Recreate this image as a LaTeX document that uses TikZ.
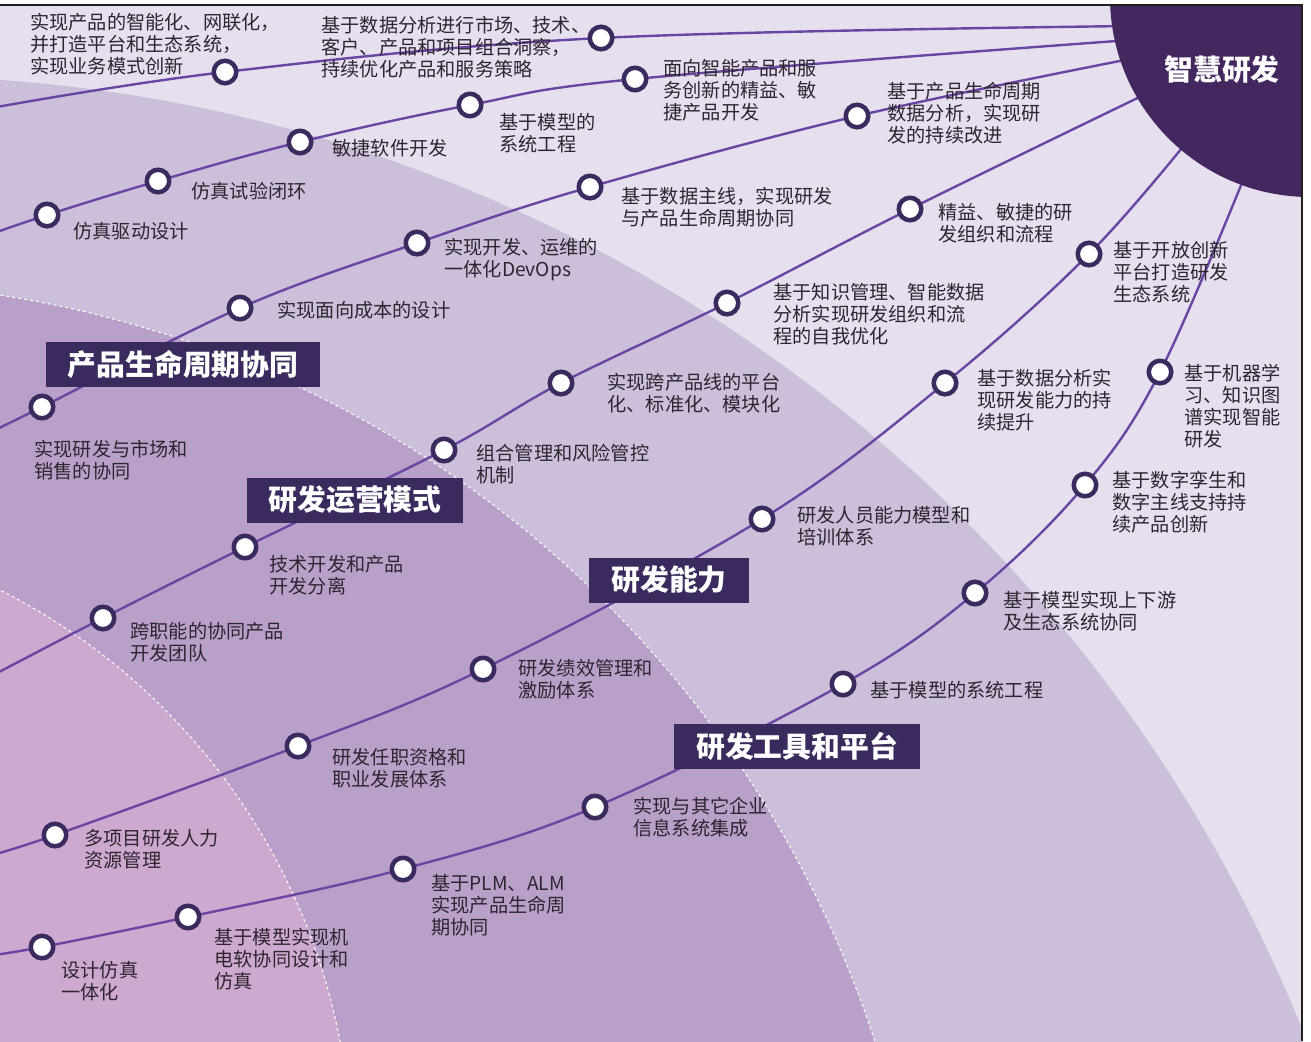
\documentclass[tikz,border=0pt]{standalone}
\usepackage{fontspec}
\setmainfont{Noto Sans CJK SC}
\usetikzlibrary{positioning}
\definecolor{ringA}{HTML}{E6E0EE}
\definecolor{ringB}{HTML}{CCBFDA}
\definecolor{ringC}{HTML}{B9A0C9}
\definecolor{ringD}{HTML}{CEA9CF}
\definecolor{hubfill}{HTML}{45275F}
\definecolor{boxfill}{HTML}{3B2A5D}
\definecolor{dotline}{HTML}{3B2A5D}
\definecolor{trackline}{HTML}{6A46A2}
\definecolor{ink}{HTML}{2E2530}
\definecolor{edgeline}{HTML}{231F20}
\pgfdeclarelayer{back}
\pgfdeclarelayer{mid}
\pgfsetlayers{back,mid,main}
\tikzset{x=0.5pt, y=-0.5pt,
         dot/.style={circle, draw=dotline, line width=2.25pt, fill=white, minimum size=11.25pt, inner sep=0pt},
         lbl/.style={anchor=north west, align=left, inner sep=0pt, text=ink, font=\fontsize{9.6}{11}\selectfont},
         theme/.style={fill=boxfill, text=white, inner xsep=11pt, inner ysep=0pt, minimum height=22.5pt, font=\fontsize{14.4}{16}\selectfont\bfseries},
         track/.style={draw=trackline, line width=1.2pt},
         seam/.style={draw=white, line width=0.5pt, dash pattern=on 1.5pt off 1.5pt},
         }

\begin{document}
\begin{tikzpicture}
    \useasboundingbox (0,0) rectangle (1311,1041);

    \node[dot] (d1a) at (225,72) {};
    \node[dot] (d1b) at (601,38) {};

    \node[dot] (d2a) at (635,79) {};
    \node[dot] (d2b) at (470,105) {};
    \node[dot] (d2c) at (300,142) {};
    \node[dot] (d2d) at (158,181) {};
    \node[dot] (d2e) at (47,215) {};

    \node[dot] (d3a) at (857,116) {};
    \node[dot] (d3b) at (590,187) {};
    \node[dot] (d3c) at (417,243) {};
    \node[dot] (d3d) at (240,308) {};
    \node[dot] (d3e) at (42,407) {};

    \node[dot] (d4a) at (910,209) {};
    \node[dot] (d4b) at (727,303) {};
    \node[dot] (d4c) at (561,383) {};
    \node[dot] (d4d) at (444,450) {};
    \node[dot] (d4e) at (245,547) {};
    \node[dot] (d4f) at (103,618) {};

    \node[dot] (d5a) at (1089,254) {};
    \node[dot] (d5b) at (945,383) {};
    \node[dot] (d5c) at (762,519) {};
    \node[dot] (d5d) at (483,669) {};
    \node[dot] (d5e) at (298,746) {};
    \node[dot] (d5f) at (55,835) {};

    \node[dot] (d6a) at (1160,372) {};
    \node[dot] (d6b) at (1085,485) {};
    \node[dot] (d6c) at (975,593) {};
    \node[dot] (d6d) at (843,684) {};
    \node[dot] (d6e) at (595,807) {};
    \node[dot] (d6f) at (403,869) {};
    \node[dot] (d6g) at (188,917) {};
    \node[dot] (d6h) at (42,947) {};

    \node[lbl] (t1a) at (30,13) {实现产品的智能化、网联化，\\并打造平台和生态系统，\\实现业务模式创新};
    \node[lbl] (t1b) at (321,16) {基于数据分析进行市场、技术、\\客户、产品和项目组合洞察，\\持续优化产品和服务策略};

    \node[lbl] (t2a) at (663,59) {面向智能产品和服\\务创新的精益、敏\\捷产品开发};
    \node[lbl] (t2b) at (499,113) {基于模型的\\系统工程};
    \node[lbl] (t2c) at (332,139) {敏捷软件开发};
    \node[lbl] (t2d) at (191,182) {仿真试验闭环};
    \node[lbl] (t2e) at (73,222) {仿真驱动设计};

    \node[lbl] (t3a) at (887,82) {基于产品生命周期\\数据分析，实现研\\发的持续改进};
    \node[lbl] (t3b) at (621,187) {基于数据主线，实现研发\\与产品生命周期协同};
    \node[lbl] (t3c) at (444,238) {实现开发、运维的\\一体化DevOps};
    \node[lbl] (t3d) at (277,301) {实现面向成本的设计};
    \node[lbl] (t3e) at (34,440) {实现研发与市场和\\销售的协同};

    \node[lbl] (t4a) at (938,203) {精益、敏捷的研\\发组织和流程};
    \node[lbl] (t4b) at (773,283) {基于知识管理、智能数据\\分析实现研发组织和流\\程的自我优化};
    \node[lbl] (t4c) at (607,373) {实现跨产品线的平台\\化、标准化、模块化};
    \node[lbl] (t4d) at (476,444) {组合管理和风险管控\\机制};
    \node[lbl] (t4e) at (269,555) {技术开发和产品\\开发分离};
    \node[lbl] (t4f) at (130,622) {跨职能的协同产品\\开发团队};

    \node[lbl] (t5a) at (1113,241) {基于开放创新\\平台打造研发\\生态系统};
    \node[lbl] (t5b) at (977,369) {基于数据分析实\\现研发能力的持\\续提升};
    \node[lbl] (t5c) at (797,506) {研发人员能力模型和\\培训体系};
    \node[lbl] (t5d) at (518,659) {研发绩效管理和\\激励体系};
    \node[lbl] (t5e) at (332,748) {研发任职资格和\\职业发展体系};
    \node[lbl] (t5f) at (84,829) {多项目研发人力\\资源管理};

    \node[lbl] (t6a) at (1184,364) {基于机器学\\习、知识图\\谱实现智能\\研发};
    \node[lbl] (t6b) at (1112,471) {基于数字孪生和\\数字主线支持持\\续产品创新};
    \node[lbl] (t6c) at (1003,591) {基于模型实现上下游\\及生态系统协同};
    \node[lbl] (t6d) at (870,681) {基于模型的系统工程};
    \node[lbl] (t6e) at (633,797) {实现与其它企业\\信息系统集成};
    \node[lbl] (t6f) at (431,874) {基于PLM、ALM\\实现产品生命周\\期协同};
    \node[lbl] (t6g) at (214,928) {基于模型实现机\\电软协同设计和\\仿真};
    \node[lbl] (t6h) at (61,961) {设计仿真\\一体化};

    \node[theme] (b3) at (183,364) {产品生命周期协同};
    \node[theme] (b4) at (355,500) {研发运营模式};
    \node[theme] (b5) at (669,580) {研发能力};
    \node[theme] (b6) at (797,746) {研发工具和平台};

    \node[text=white, inner sep=0pt, font=\fontsize{14.4}{16}\selectfont\bfseries] (hubtxt) at (1222,70) {智慧研发};

    \coordinate (s1) at (-20,110);
    \coordinate (s2) at (-20,238);
    \coordinate (s3) at (-20,437);
    \coordinate (s4) at (-20,682);
    \coordinate (s5) at (-20,858);
    \coordinate (s6) at (-20,957);
    \coordinate (e1) at (1130,26);
    \coordinate (e2) at (1130,40);
    \coordinate (e3) at (1135,58);
    \coordinate (e4) at (1150,92);
    \coordinate (e5) at (1190,138);
    \coordinate (e6) at (1248,168);

    \begin{pgfonlayer}{back}
    \fill[white] (0,0) rectangle (1311,1041);
    \begin{scope}
        \clip (0,5) rectangle (1302,1041);
        \fill[ringA] (0,5) rectangle (1302,1041);
        \fill[ringB] (-110,1598) circle (1522);
        \fill[ringC] (-170,1380) circle (1098);
        \fill[ringD] (-287,1160) circle (638);
        \draw[seam] (-170,1380) circle (1098);
        \draw[seam] (-287,1160) circle (638);
    \end{scope}
    \end{pgfonlayer}

    \begin{pgfonlayer}{mid}
    \begin{scope}
        \clip (0,5) rectangle (1302,1041);
        \draw[track] plot[smooth, tension=0.6] coordinates {(s1) (d1a) (d1b) (e1)};
        \draw[track] plot[smooth, tension=0.6] coordinates {(s2) (d2e) (d2d) (d2c) (d2b) (d2a) (e2)};
        \draw[track] plot[smooth, tension=0.6] coordinates {(s3) (d3e) (d3d) (d3c) (d3b) (d3a) (e3)};
        \draw[track] plot[smooth, tension=0.6] coordinates {(s4) (d4f) (d4e) (d4d) (d4c) (d4b) (d4a) (e4)};
        \draw[track] plot[smooth, tension=0.6] coordinates {(s5) (d5f) (d5e) (d5d) (d5c) (d5b) (d5a) (e5)};
        \draw[track] plot[smooth, tension=0.6] coordinates {(s6) (d6h) (d6g) (d6f) (d6e) (d6d) (d6c) (d6b) (d6a) (e6)};
        \fill[hubfill] (1310,-3) circle (200);
    \end{scope}
    \end{pgfonlayer}

    \draw[edgeline, line width=1pt] (0,5) -- (1302,5) -- (1302,1041);
\end{tikzpicture}
\end{document}
